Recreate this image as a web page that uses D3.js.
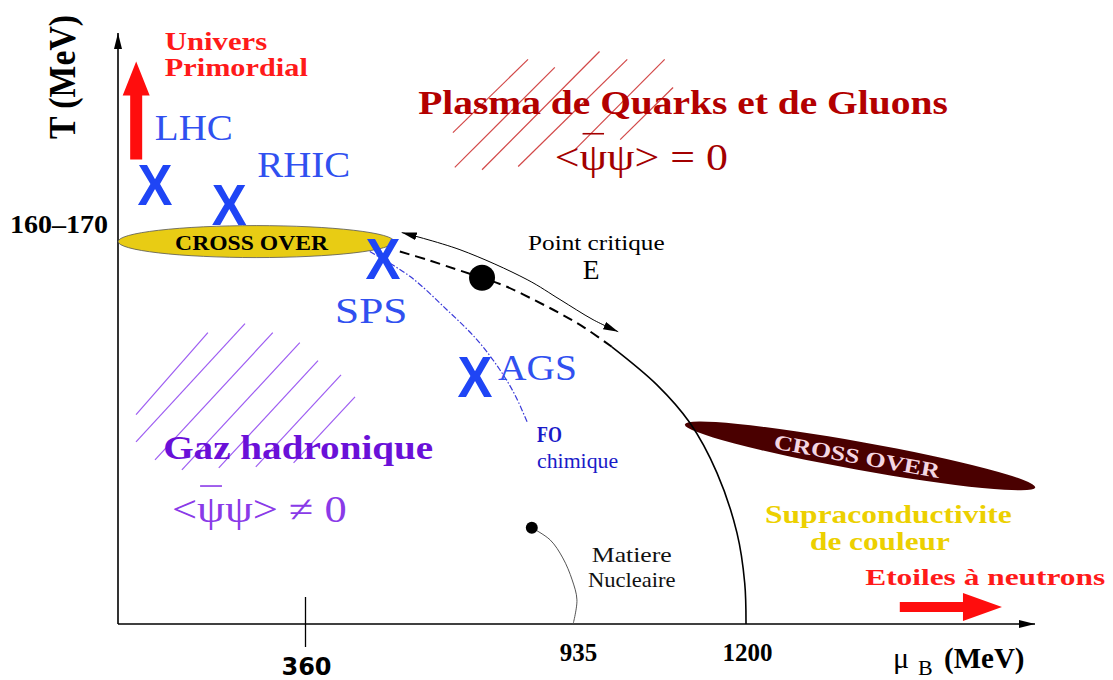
<!DOCTYPE html>
<html>
<head>
<meta charset="utf-8">
<script src="https://cdn.jsdelivr.net/npm/d3@7"></script>
<style>
  body { margin: 0; background: #fff; }
  svg { display: block; }
  text { font-family: "Liberation Serif", "DejaVu Serif", serif; }
  .univers, .primordial { fill: #ff1a1a; font-weight: bold; font-size: 25px; }
  .plasma { fill: #b30000; font-weight: bold; font-size: 33px; }
  .qgpf { fill: #a30000; font-size: 38px; }
  .gaz { fill: #6a10d8; font-weight: bold; font-size: 33px; }
  .hadf { fill: #8a3ae8; font-size: 38px; }
  .exp { fill: #3050f0; font-size: 35px; }
  .pc { fill: #000; font-size: 22px; }
  .pe { fill: #000; font-size: 27px; }
  .fo { fill: #1a1ac8; font-weight: bold; font-size: 23px; }
  .chim { fill: #1a1ac8; font-size: 20px; }
  .mat { fill: #111; font-size: 22px; }
  .supra { fill: #ecd000; font-weight: bold; font-size: 25px; }
  .etoiles { fill: #ff1a1a; font-weight: bold; font-size: 24px; }
  .xo { fill: #000; font-weight: bold; font-size: 20px; }
</style>
</head>
<body>
<svg width="1113" height="680"></svg>
<script>
// ---- data (mu_B in MeV, T in MeV) ----
const muMax = 1760;
const tMax = 255;
const xTickValues = [360, 935, 1200];
const yTickValues = [165];
const yTickLabels = ["160–170"];

// experiments (X marks)
const expNames = ["LHC", "RHIC", "SPS", "AGS"];
const expMu = [71, 214, 526, 722];
const expT = [190, 181.4, 158, 107];

// points
const criticalPoint = [737, 149.4];
const nuclearPoint = [843, 41.5];

// lines
const crossoverDashed = [[562, 160.7], [620, 157.2], [684, 152.9], [737, 149.4], [790, 145.5], [850, 139.6], [905, 133.8], [950, 127.8], [992, 119.6]];
const firstOrder = [[992, 119.6], [1062, 103.2], [1113, 86.8], [1155, 65.2], [1186, 39.3], [1198, 17.7], [1200, 0]];
const arcArrow = [[566, 168.9], [690, 161.5], [833, 148.6], [903, 140], [963, 131.3], [1002, 126.1]];
const freezeOut = [[498, 160.7], [584, 149.9], [662, 135.6], [726, 122.7], [775, 109.7], [807, 98.9], [833, 87.2]];
const nuclearLine = [[843, 41.5], [882, 36.3], [909, 28.5], [929, 19], [938, 10.4], [931, 0]];

// crossover regions (centres)
const crossoverMu = [266, 1421];
const crossoverT = [165, 72.5];

// hatching segments [[mu0, T0], [mu1, T1]]
const hadronHatch = [
  [[34.7, 90.3], [173, 125.7]],
  [[34.7, 78.6], [244.5, 129.6]],
  [[71.2, 70.8], [298, 125.7]],
  [[123, 66.5], [350, 121.4]],
  [[194, 67.4], [387.7, 113.6]],
  [[265.3, 67.8], [436.7, 107.5]],
  [[338, 69.5], [466.5, 98]]
];
const plasmaHatch = [
  [[675, 212], [835, 243.6]],
  [[679, 197], [892, 240.2]],
  [[737, 196], [973, 247]],
  [[814, 197.4], [1016, 243.6]],
  [[935, 204.7], [1074, 243.6]],
  [[1005, 209], [1087, 231.5]]
];

// big red arrows [start, tip]
const earlyUniverseArrow = [[35, 200.4], [35, 242.7]];
const neutronStarArrow = [[1498, 7.3], [1696, 7.3]];

// text labels: class, text, muStart, muEnd, T(baseline)
const annotations = [
  ["univers", "Univers", 90, 287, 247.5],
  ["primordial", "Primordial", 90, 366, 236.3],
  ["plasma", "Plasma de Quarks et de Gluons", 601, 1591, 220],
  ["gaz", "Gaz hadronique", 87, 633, 71.3],
  ["exp", "LHC", 71, 221, 209],
  ["exp", "RHIC", 268, 456, 193],
  ["exp", "SPS", 424, 578, 130],
  ["exp", "AGS", 771, 938, 105.4],
  ["pc", "Point critique", 835, 1074, 161.5],
  ["pe", "E", 947, 973, 149],
  ["fo", "FO", 854, 907, 78.6],
  ["chim", "chimique", 854, 1002, 67.4],
  ["mat", "Matiere", 961, 1085, 26.8],
  ["mat", "Nucleaire", 955, 1091, 16],
  ["supra", "Supraconductivite", 1237, 1715, 43.6],
  ["supra", "de couleur", 1324, 1595, 32],
  ["etoiles", "Etoiles à neutrons", 1431, 1896, 16.8],
  ["xo", "CROSS OVER", 110, 409, 161.5]
];
// condensate formulas: class, text, muStart, muEnd, T(baseline)
const formulas = [
  ["qgpf", "<ψψ> = 0", 892, 1172, 196],
  ["hadf", "<ψψ> ≠ 0", 104, 449, 44]
];

// ---- scales ----
const svg = d3.select("svg");
const x = d3.scaleLinear().domain([0, ...xTickValues, muMax]).range([118, 305, 575, 746, 1035]);
const y = d3.scaleLinear().domain([0, tMax]).range([624, 33]);
const px = d => [x(d[0]), y(d[1])];

const defs = svg.append("defs");
function marker(id, len, wid) {
  defs.append("marker")
    .attr("id", id)
    .attr("viewBox", `0 0 ${len} ${wid}`)
    .attr("refX", len).attr("refY", wid / 2)
    .attr("markerWidth", len).attr("markerHeight", wid)
    .attr("markerUnits", "userSpaceOnUse")
    .attr("orient", "auto-start-reverse")
    .append("path")
    .attr("d", `M0,0L${len},${wid / 2}L0,${wid}z`)
    .attr("fill", "#000");
}
marker("axisHead", 16, 8);
marker("arcHead", 15, 8);

// hatching
function hatch(segs, color) {
  svg.append("g").selectAll("line").data(segs).enter().append("line")
    .attr("x1", d => x(d[0][0])).attr("y1", d => y(d[0][1]))
    .attr("x2", d => x(d[1][0])).attr("y2", d => y(d[1][1]))
    .attr("stroke", color).attr("stroke-width", 1.2);
}
hatch(plasmaHatch, "#d24848");
hatch(hadronHatch, "#9d5cf2");

// axes lines with arrows
svg.append("line")
  .attr("x1", x(0)).attr("y1", y(0)).attr("x2", x(muMax)).attr("y2", y(0))
  .attr("stroke", "#000").attr("stroke-width", 1.6).attr("marker-end", "url(#axisHead)");
svg.append("line")
  .attr("x1", x(0)).attr("y1", y(0)).attr("x2", x(0)).attr("y2", y(tMax))
  .attr("stroke", "#000").attr("stroke-width", 1.6).attr("marker-end", "url(#axisHead)");

// x ticks
const gx = svg.append("g").attr("transform", `translate(0,${y(0)})`)
  .call(d3.axisBottom(x).tickValues(xTickValues).tickSize(0).tickFormat(d3.format("d")));
gx.select(".domain").remove();
gx.selectAll(".tick text")
  .attr("dy", null)
  .attr("y", d => d === 360 ? 51 : 37)
  .attr("x", d => d === 935 ? 3 : 1)
  .style("font-family", d => d === 360 ? "'DejaVu Sans', sans-serif" : "'Liberation Serif', serif")
  .style("font-weight", "bold")
  .style("font-size", d => d === 360 ? "24px" : "25px")
  .attr("fill", "#000");
gx.selectAll(".tick line").filter(d => d === 360)
  .attr("y1", -27).attr("y2", 23).attr("stroke", "#000").attr("stroke-width", 1.3);

// y ticks
const gy = svg.append("g").attr("transform", `translate(${x(0)},0)`)
  .call(d3.axisLeft(y).tickValues(yTickValues).tickSize(0).tickPadding(10).tickFormat((d, i) => yTickLabels[i]));
gy.select(".domain").remove();
gy.selectAll(".tick text")
  .attr("dy", null).attr("y", -9)
  .style("font-family", "'Liberation Serif', serif")
  .style("font-weight", "bold").style("font-size", "25px")
  .attr("fill", "#000")
  .attr("textLength", 98).attr("lengthAdjust", "spacingAndGlyphs");

// axis titles
svg.append("text")
  .attr("transform", "translate(75,139) rotate(-90)")
  .style("font-weight", "bold").style("font-size", "38px")
  .attr("textLength", 124).attr("lengthAdjust", "spacingAndGlyphs")
  .text("T (MeV)");
const xt = svg.append("text").attr("x", 893).attr("y", 668);
xt.append("tspan").style("font-size", "30px").text("μ");
xt.append("tspan").attr("x", 918).attr("dy", 7).style("font-size", "22px").text("B");
xt.append("tspan").attr("x", 944).attr("dy", -7).style("font-size", "29px").style("font-weight", "bold").text("(MeV)");

// crossover ellipses
svg.append("ellipse")
  .attr("cx", x(crossoverMu[0])).attr("cy", y(crossoverT[0]))
  .attr("rx", 138).attr("ry", 16)
  .attr("fill", "#e8cc14").attr("stroke", "#555").attr("stroke-width", 0.8);
const gxo = svg.append("g")
  .attr("transform", `translate(${x(crossoverMu[1])},${y(crossoverT[1])}) rotate(10.2)`);
gxo.append("ellipse").attr("rx", 178).attr("ry", 14).attr("fill", "#4a0000");

// phase lines
const line = d3.line().x(d => x(d[0])).y(d => y(d[1])).curve(d3.curveCatmullRom);
svg.append("path").datum(freezeOut).attr("d", line)
  .attr("fill", "none").attr("stroke", "#3a3ad8").attr("stroke-width", 1.2)
  .attr("stroke-dasharray", "6,2,1.5,2");
svg.append("path").datum(crossoverDashed).attr("d", line)
  .attr("fill", "none").attr("stroke", "#000").attr("stroke-width", 2)
  .attr("stroke-dasharray", "10,6");
svg.append("path").datum(firstOrder).attr("d", line)
  .attr("fill", "none").attr("stroke", "#000").attr("stroke-width", 1.6);
svg.append("path").datum(arcArrow).attr("d", line)
  .attr("fill", "none").attr("stroke", "#000").attr("stroke-width", 1)
  .attr("marker-start", "url(#arcHead)").attr("marker-end", "url(#arcHead)");
svg.append("path").datum(nuclearLine).attr("d", line)
  .attr("fill", "none").attr("stroke", "#555").attr("stroke-width", 1);

// points
svg.append("circle").attr("cx", x(criticalPoint[0])).attr("cy", y(criticalPoint[1])).attr("r", 13).attr("fill", "#000");
svg.append("circle").attr("cx", x(nuclearPoint[0])).attr("cy", y(nuclearPoint[1])).attr("r", 6).attr("fill", "#000");

// big red arrows
function bigArrow(d, shaft, head, headLen) {
  const [x0, y0] = px(d[0]), [x1, y1] = px(d[1]);
  const L = Math.hypot(x1 - x0, y1 - y0);
  const a = Math.atan2(y1 - y0, x1 - x0) * 180 / Math.PI;
  const s = shaft / 2, h = head / 2, b = L - headLen;
  svg.append("path")
    .attr("transform", `translate(${x0},${y0}) rotate(${a})`)
    .attr("d", `M0,${-s}L${b},${-s}L${b},${-h}L${L},0L${b},${h}L${b},${s}L0,${s}Z`)
    .attr("fill", "#ff0d0d");
}
bigArrow(earlyUniverseArrow, 12, 27, 34);
bigArrow(neutronStarArrow, 10, 28, 39);

// text labels
svg.append("g").selectAll("text").data(annotations).enter().append("text")
  .attr("class", d => d[0])
  .attr("x", d => x(d[2])).attr("y", d => y(d[4]))
  .attr("textLength", d => x(d[3]) - x(d[2]))
  .attr("lengthAdjust", "spacingAndGlyphs")
  .text(d => d[1]);

gxo.append("text").attr("class", "xo")
  .attr("text-anchor", "middle").attr("x", -3).attr("y", 8)
  .attr("textLength", 168).attr("lengthAdjust", "spacingAndGlyphs")
  .style("fill", "#f4d6e2").style("font-size", "21px")
  .text("CROSS OVER");

// formulas with bar over the first psi
formulas.forEach(f => {
  const t = svg.append("text").attr("class", f[0])
    .attr("x", x(f[2])).attr("y", y(f[4]))
    .attr("textLength", x(f[3]) - x(f[2]))
    .attr("lengthAdjust", "spacingAndGlyphs")
    .text(f[1]);
  const e = t.node().getExtentOfChar(1);
  svg.append("line")
    .attr("x1", e.x + 3).attr("x2", e.x + e.width - 3)
    .attr("y1", y(f[4]) - 36).attr("y2", y(f[4]) - 36)
    .attr("stroke", t.style("fill")).attr("stroke-width", 1.6);
});

// experiment X marks
svg.append("g").selectAll("text").data(expNames).enter().append("text")
  .attr("x", (d, i) => x(expMu[i])).attr("y", (d, i) => y(expT[i]) + 21)
  .attr("text-anchor", "middle")
  .attr("textLength", 35).attr("lengthAdjust", "spacingAndGlyphs")
  .style("font-family", "'Liberation Sans', Arial, sans-serif")
  .style("font-weight", "bold").style("font-size", "58px")
  .attr("fill", "#1f45f5")
  .text("X");
</script>
</body>
</html>
